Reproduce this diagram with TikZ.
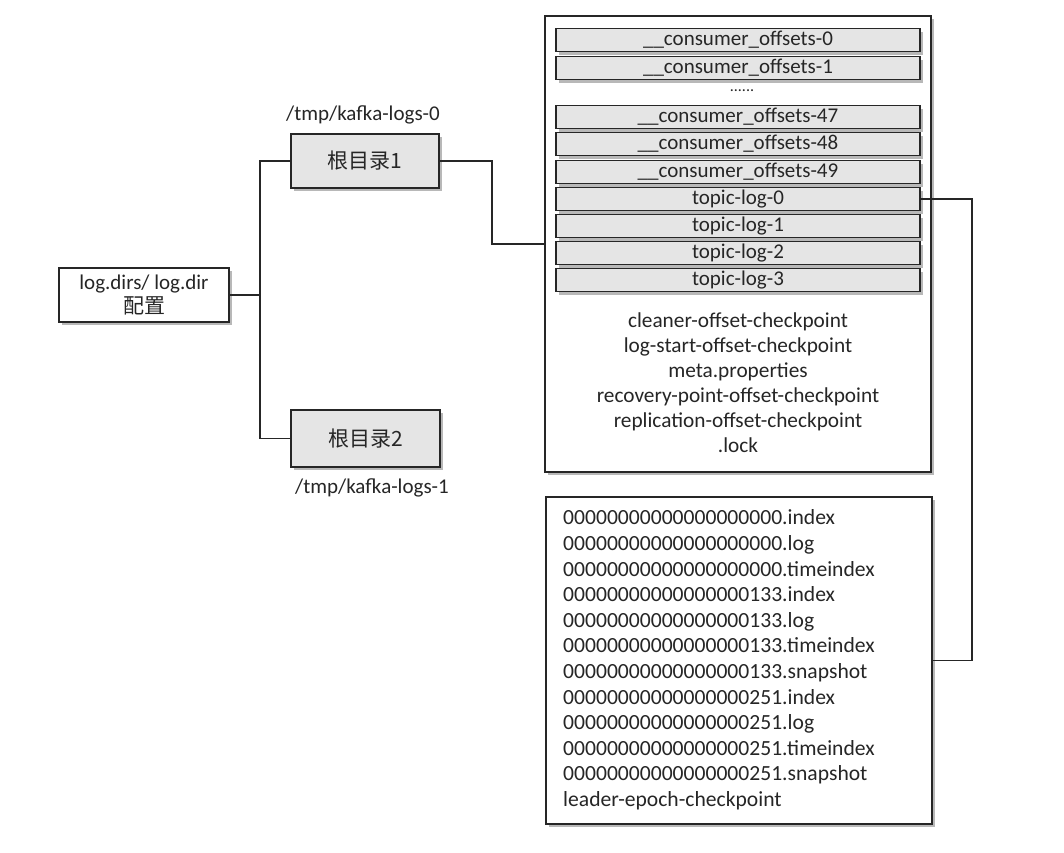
\documentclass[tikz,border=0pt]{standalone}
\usepackage{fontspec}
\setmainfont{Carlito}
\newfontfamily\cjk{Noto Sans CJK SC}
\usetikzlibrary{shadows,calc}
\begin{document}
\begin{tikzpicture}[x=1pt,y=-1pt,
  every node/.style={font=\fontsize{21}{25.6}\selectfont, text=black!85},
  boxshadow/.style={drop shadow={shadow xshift=3pt,shadow yshift=-3pt,opacity=0.5,fill=black!55}},
  plainbox/.style={draw=black!85, line width=1.3pt, fill=white, boxshadow, inner sep=0pt},
  greybox/.style={draw=black!85, line width=1.3pt, fill=black!10, boxshadow, inner sep=0pt},
  barbox/.style={draw=black!85, line width=1.3pt, fill=black!10, boxshadow, minimum width=364pt, minimum height=23pt, inner sep=0pt},
  conn/.style={draw=black!85, line width=1.2pt}
]
\useasboundingbox[fill=white] (0,0) rectangle (1064,852);

% left config box
\node[plainbox, minimum width=170pt, minimum height=54pt, align=center] (cfg) at (144,295)
  {log.dirs/ log.dir\\[-2pt]{\cjk 配置}};

% root directories
\node[greybox, minimum width=148pt, minimum height=54pt] (r1) at (365,161) {\cjk 根目录1};
\node[greybox, minimum width=149pt, minimum height=57pt] (r2) at (365.5,438.5) {\cjk 根目录2};
\node (l0) at (363,115) {/tmp/kafka-logs-0};
\node (l1) at (372,488) {/tmp/kafka-logs-1};

% big box 1
\node[plainbox, minimum width=386pt, minimum height=456pt] (big1) at (738,244) {};
\node[barbox] (c0) at (738,40) {\_\_consumer\_offsets-0};
\node[barbox] (c1) at (738,68) {\_\_consumer\_offsets-1};
\node[inner sep=0pt] (dots) at (742,91) {\fontsize{16}{17}\selectfont ......};
\node[barbox] (c47) at (738,117) {\_\_consumer\_offsets-47};
\node[barbox] (c48) at (738,144) {\_\_consumer\_offsets-48};
\node[barbox] (c49) at (738,172) {\_\_consumer\_offsets-49};
\node[barbox] (t0) at (738,199) {topic-log-0};
\node[barbox] (t1) at (738,226) {topic-log-1};
\node[barbox] (t2) at (738,253) {topic-log-2};
\node[barbox] (t3) at (738,280) {topic-log-3};
\node[align=center, inner sep=0pt, font=\fontsize{21.3}{25}\selectfont] (files1) at (738,383)
  {cleaner-offset-checkpoint\\log-start-offset-checkpoint\\meta.properties\\recovery-point-offset-checkpoint\\replication-offset-checkpoint\\.lock};

% big box 2
\node[plainbox, minimum width=386pt, minimum height=327pt] (big2) at (739,660.5) {};
\node[align=left, inner sep=0pt, anchor=west, font=\fontsize{21.6}{25.6}\selectfont] (files2) at (563,660)
  {00000000000000000000.index\\
   00000000000000000000.log\\
   00000000000000000000.timeindex\\
   00000000000000000133.index\\
   00000000000000000133.log\\
   00000000000000000133.timeindex\\
   00000000000000000133.snapshot\\
   00000000000000000251.index\\
   00000000000000000251.log\\
   00000000000000000251.timeindex\\
   00000000000000000251.snapshot\\
   leader-epoch-checkpoint};

% connectors
\coordinate (j1) at (260,295);
\coordinate (j2) at (492,200);
\coordinate (j3) at (972,400);
\draw[conn] (cfg.east) -- (j1);
\draw[conn] (r1.west) -| (j1) |- (r2.west);
\draw[conn] (r1.east) -- (r1.east -| j2) |- (big1.west);
\draw[conn] (t0.east) -| (j3) |- (big2.east);
\end{tikzpicture}
\end{document}
